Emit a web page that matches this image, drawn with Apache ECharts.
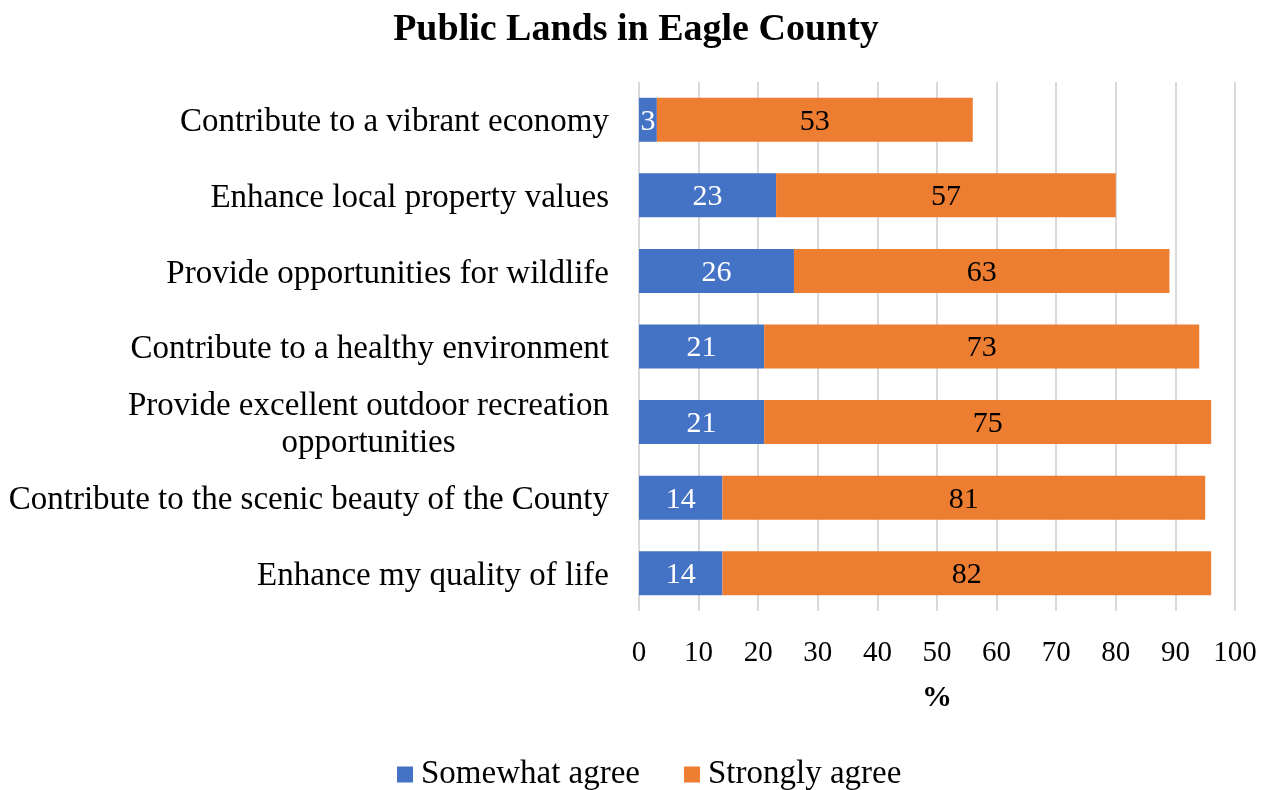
<!DOCTYPE html>
<html>
<head>
<meta charset="utf-8">
<script src="https://cdn.jsdelivr.net/npm/echarts@6/dist/echarts.min.js"></script>
<style>
  html, body { margin: 0; padding: 0; background: #fff; }
  #chart { width: 1272px; height: 790px; }
</style>
</head>
<body>
<div id="chart"></div>
<script>
// Survey statements, listed top to bottom
const categories = [
  'Contribute to a vibrant economy',
  'Enhance local property values',
  'Provide opportunities for wildlife',
  'Contribute to a healthy environment',
  'Provide excellent outdoor recreation\nopportunities',
  'Contribute to the scenic beauty of the County',
  'Enhance my quality of life'
];
const somewhatAgree = [3, 23, 26, 21, 21, 14, 14];
const stronglyAgree = [53, 57, 63, 73, 75, 81, 82];
const xTicks = { min: 0, max: 100, interval: 10 };

const FONT = '"Liberation Serif", "Times New Roman", serif';

const chart = echarts.init(document.getElementById('chart'));
chart.setOption({
  animation: false,
  backgroundColor: '#ffffff',
  title: {
    text: 'Public Lands in Eagle County',
    left: 'center',
    top: 6,
    textStyle: { fontFamily: FONT, fontSize: 38, fontWeight: 'bold', color: '#000' }
  },
  legend: {
    bottom: -6,
    left: 392,
    itemWidth: 16,
    itemHeight: 16,
    itemGap: 44,
    icon: 'rect',
    textStyle: { fontFamily: FONT, fontSize: 33, color: '#000', padding: [0, 0, 0, 3] },
    data: ['Somewhat agree', 'Strongly agree']
  },
  grid: { left: 639, right: 37, top: 82, bottom: 179, containLabel: false },
  xAxis: {
    type: 'value',
    min: xTicks.min,
    max: xTicks.max,
    interval: xTicks.interval,
    name: '%',
    nameLocation: 'middle',
    nameGap: 72,
    nameTextStyle: { fontFamily: FONT, fontSize: 30, fontWeight: 'bold', color: '#000' },
    axisLine: { show: false },
    axisTick: { show: false },
    axisLabel: { fontFamily: FONT, fontSize: 29, color: '#000', margin: 28 },
    splitLine: { show: true, lineStyle: { color: '#d9d9d9', width: 2 } }
  },
  yAxis: {
    type: 'category',
    data: categories,
    inverse: true,
    axisLine: { show: false },
    axisTick: { show: false },
    axisLabel: {
      margin: 30,
      padding: [6, 0, 0, 0],
      formatter: v => v.split('\n').map(s => '{c|' + s + '}').join('\n'),
      rich: {
        c: { fontFamily: FONT, fontSize: 33, color: '#000', align: 'center', lineHeight: 37 }
      }
    }
  },
  series: [
    {
      name: 'Somewhat agree',
      type: 'bar',
      stack: 'total',
      barWidth: 44,
      data: somewhatAgree,
      itemStyle: { color: '#4472C4' },
      label: { show: true, position: 'inside', offset: [0, 2], color: '#fff', fontFamily: FONT, fontSize: 30 }
    },
    {
      name: 'Strongly agree',
      type: 'bar',
      stack: 'total',
      barWidth: 44,
      data: stronglyAgree,
      itemStyle: { color: '#ED7D31' },
      label: { show: true, position: 'inside', offset: [0, 2], color: '#000', fontFamily: FONT, fontSize: 30 }
    }
  ]
});
</script>
</body>
</html>
